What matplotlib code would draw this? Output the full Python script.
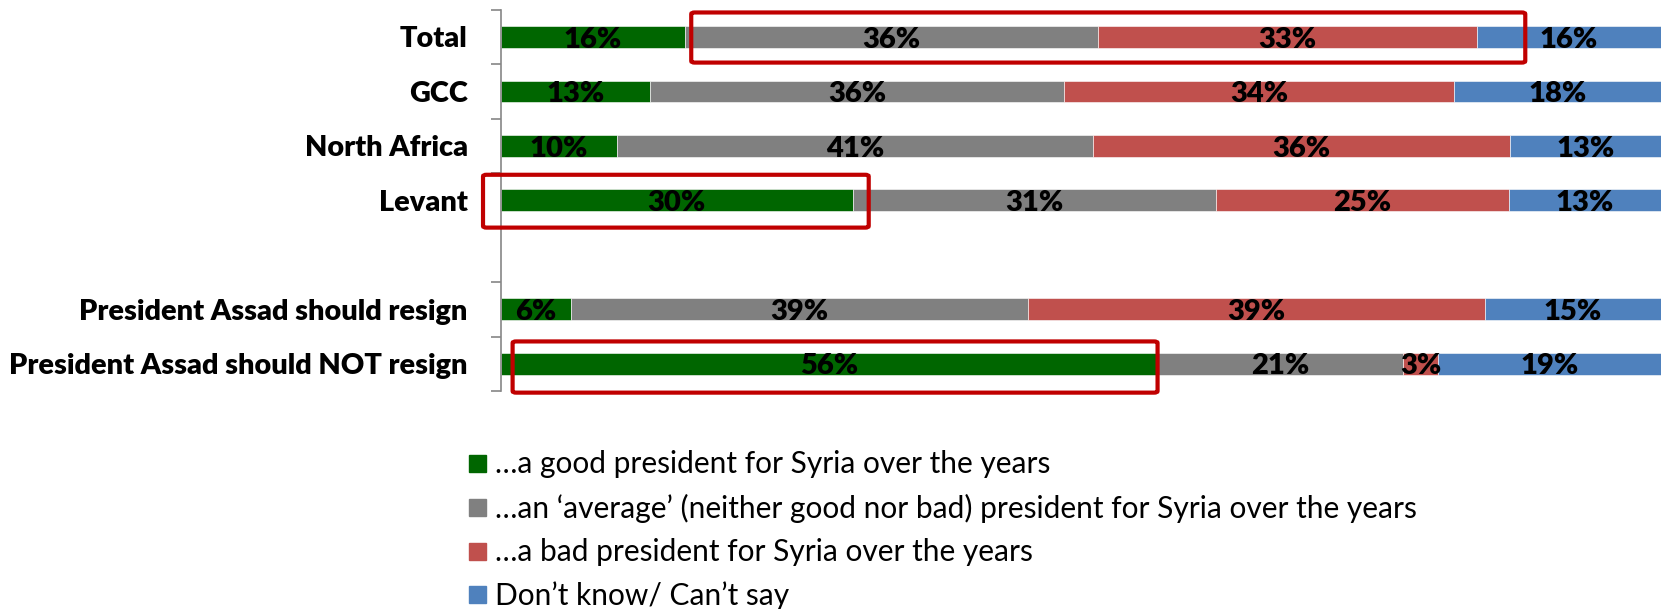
import matplotlib
matplotlib.use("Agg")
import matplotlib.pyplot as plt
from matplotlib.patches import Rectangle, FancyBboxPatch
import numpy as np

plt.rcParams['font.family'] = ['Lato', 'DejaVu Sans']

categories = ["Total", "GCC", "North Africa", "Levant", "",
              "President Assad should resign", "President Assad should NOT resign"]
good = [16, 13, 10, 30, 0, 6, 56]
average = [36, 36, 41, 31, 0, 39, 21]
bad = [33, 34, 36, 25, 0, 39, 3]
dont_know = [16, 18, 13, 13, 0, 15, 19]
series_names = ["…a good president for Syria over the years",
                "…an ‘average’ (neither good nor bad) president for Syria over the years",
                "…a bad president for Syria over the years",
                "Don’t know/ Can’t say"]
colors = ["#006600", "#808080", "#C0504D", "#4F81BD"]

W, H = 1663, 609
fig = plt.figure(figsize=(W / 100, H / 100), dpi=100)
ax = fig.add_axes([501 / W, 1 - 391 / H, 1160 / W, (391 - 9.75) / H])

data = np.array([good, average, bad, dont_know], dtype=float)
totals = data.sum(axis=0)
totals[totals == 0] = 1
pct = data / totals * 100
y = np.arange(len(categories))
left = np.zeros(len(categories))
for k in range(4):
    ax.barh(y, pct[k], left=left, height=0.40, color=colors[k],
            edgecolor="white", linewidth=0.4)
    for i in range(len(categories)):
        if data[k, i] > 0:
            ax.text(left[i] + pct[k, i] / 2, y[i] + 0.05, f"{int(data[k, i])}%",
                    ha="center", va="center", fontsize=21, fontweight="heavy",
                    color="black")
    left += pct[k]

ax.set_xlim(0, 100)
ax.set_ylim(6.5, -0.5)
ax.set_yticks(y)
ax.set_yticklabels(categories, fontsize=20.8, fontweight="heavy")
ax.tick_params(axis="y", which="major", length=0, pad=24)
minor = [i + 0.5 for i in range(-1, len(categories)) if i != 3]
ax.set_yticks(minor, minor=True)
ax.tick_params(axis="y", which="minor", length=7.5, width=1.2, color="#868686")
ax.set_xticks([])
for s in ["top", "right", "bottom"]:
    ax.spines[s].set_visible(False)
ax.spines["left"].set_color("#868686")
ax.spines["left"].set_linewidth(1.2)

# highlight boxes
boxes = [(16.4, -0.45, 88.3, 0.47), (-1.55, 2.53, 31.7, 3.50), (1.0, 5.59, 56.6, 6.53)]
for x0, y0, x1, y1 in boxes:
    ax.add_patch(FancyBboxPatch((x0, y0), x1 - x0, y1 - y0,
                                boxstyle="round,pad=0,rounding_size=0.3",
                                fill=False, edgecolor="#C00000", linewidth=3,
                                clip_on=False, zorder=5, mutation_aspect=0.1))

# legend
leg_y = [463.4, 507.8, 551.3, 594.8]
for name, c, yy in zip(series_names, colors, leg_y):
    fig.patches.append(Rectangle((469 / W, 1 - (yy + 8.5) / H), 17 / W, 17 / H,
                                 transform=fig.transFigure, color=c))
    fig.text(495 / W, 1 - (yy + 1) / H, name, fontsize=21.5, va="center", ha="left")

fig.savefig("out.png", dpi=100)
